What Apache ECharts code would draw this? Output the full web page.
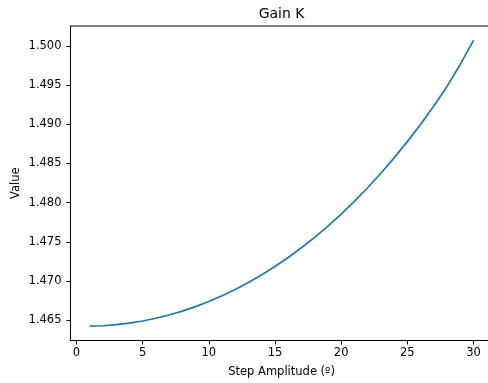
<!DOCTYPE html>
<html>
<head>
<meta charset="utf-8">
<style>
  html, body { margin: 0; padding: 0; background: #ffffff; overflow: hidden; }
  /* the drawing surface runs a few pixels past the window's right edge */
  #chart { width: 494px; height: 383px; }
</style>
<script src="https://cdn.jsdelivr.net/npm/echarts@6/dist/echarts.min.js"></script>
</head>
<body>
<div id="chart"></div>
<script>
// Step amplitude in degrees
const amplitudes = [1, 2, 3, 4, 5, 6, 7, 8, 9, 10, 11, 12, 13, 14, 15,
                    16, 17, 18, 19, 20, 21, 22, 23, 24, 25, 26, 27, 28, 29, 30];
// Identified static gain K for each step amplitude
const gainK = [1.46424, 1.46430, 1.46443, 1.46463, 1.46490, 1.46525, 1.46567, 1.46617,
               1.46674, 1.46739, 1.46812, 1.46893, 1.46982, 1.47079, 1.47185, 1.47300,
               1.47424, 1.47557, 1.47700, 1.47853, 1.48016, 1.48190, 1.48375, 1.48571,
               1.48778, 1.48997, 1.49232, 1.49482, 1.49762, 1.50070];
// Tick positions
const xTicks = [0, 5, 10, 15, 20, 25, 30];
const yTicks = [1.465, 1.470, 1.475, 1.480, 1.485, 1.490, 1.495, 1.500];

const FONT = 'DejaVu Sans';
const LABEL_SIZE = 11.5;

// axis limits padded by 5% of the data span on each side
const xSpan = amplitudes[amplitudes.length - 1] - amplitudes[0];
const xMin = amplitudes[0] - 0.05 * xSpan;
const xMax = amplitudes[amplitudes.length - 1] + 0.05 * xSpan;
const yLo = Math.min(...gainK), yHi = Math.max(...gainK);
const ySpan = yHi - yLo;
const yMin = yLo - 0.05 * ySpan;
const yMax = yHi + 0.05 * ySpan;

const chart = echarts.init(document.getElementById('chart'), null, { renderer: 'canvas' });

const gridLeft = 70.5, gridWidth = 422.2;
const plotCenterX = gridLeft + gridWidth / 2;

chart.setOption({
  animation: false,
  backgroundColor: '#ffffff',
  textStyle: { fontFamily: FONT },
  graphic: [{
    type: 'text',
    x: plotCenterX,
    y: 14,
    style: {
      text: 'Gain K',
      fill: '#000',
      font: '14px "' + FONT + '"',
      textAlign: 'center',
      textVerticalAlign: 'middle'
    }
  }],
  grid: {
    left: gridLeft,
    width: gridWidth,
    top: 26,
    bottom: 42.3,
    show: true,
    borderColor: '#000',
    borderWidth: 1,
    backgroundColor: 'transparent'
  },
  xAxis: {
    type: 'value',
    min: xMin,
    max: xMax,
    name: 'Step Amplitude (º)',
    nameLocation: 'middle',
    nameGap: 25.5,
    nameMoveOverlap: false,
    nameTextStyle: { color: '#000', fontSize: LABEL_SIZE, fontFamily: FONT },
    axisLine: { show: true, onZero: false, lineStyle: { color: '#000', width: 1 } },
    axisTick: { show: true, length: 4, customValues: xTicks, lineStyle: { color: '#000', width: 1 } },
    axisLabel: { customValues: xTicks, margin: 7, color: '#000', fontSize: LABEL_SIZE, fontFamily: FONT,
                 formatter: v => String(v) },
    splitLine: { show: false }
  },
  yAxis: {
    type: 'value',
    min: yMin,
    max: yMax,
    name: 'Value',
    nameLocation: 'middle',
    nameGap: 48,
    nameMoveOverlap: false,
    nameTextStyle: { color: '#000', fontSize: LABEL_SIZE, fontFamily: FONT },
    axisLine: { show: true, onZero: false, lineStyle: { color: '#000', width: 1 } },
    axisTick: { show: true, length: 4, customValues: yTicks, lineStyle: { color: '#000', width: 1 } },
    axisLabel: { customValues: yTicks, margin: 9, color: '#000', fontSize: LABEL_SIZE, fontFamily: FONT,
                 formatter: v => v.toFixed(3) },
    splitLine: { show: false }
  },
  series: [{
    type: 'line',
    data: amplitudes.map((a, i) => [a, gainK[i]]),
    showSymbol: false,
    smooth: false,
    lineStyle: { color: '#1f77b4', width: 1.7 },
    clip: false
  }]
});
</script>
</body>
</html>
